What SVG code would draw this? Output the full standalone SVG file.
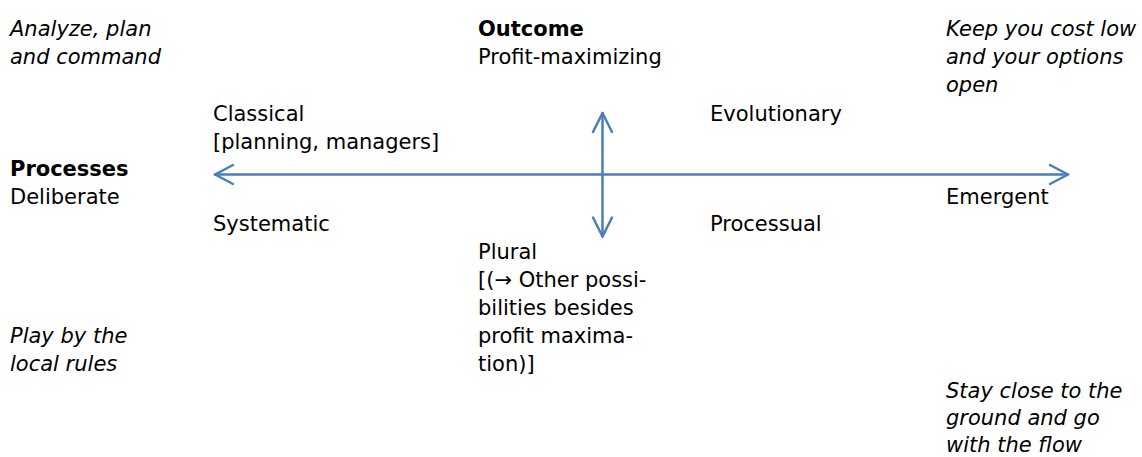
<svg xmlns="http://www.w3.org/2000/svg" width="1142" height="457" viewBox="0 0 1142 457">
  <style>
    text { font-family: "DejaVu Sans", "Liberation Sans", sans-serif; font-size: 21px; fill: #000; }
    .it { font-style: italic; }
    .b { font-weight: bold; }
    .axis { fill: none; stroke: #4a7ebb; stroke-width: 2.5; stroke-linecap: round; stroke-linejoin: round; }
  </style>
  <rect width="1142" height="457" fill="#fff"/>

  <!-- axes: processes (horizontal) and outcome (vertical) -->
  <g id="connectors">
    <path class="axis" d="M215 174.5 H1068"/>
    <path class="axis" d="M233 165 L215 174.5 L233 184"/>
    <path class="axis" d="M1050 165 L1068 174.5 L1050 184"/>
    <path class="axis" d="M602.5 113 V236.5"/>
    <path class="axis" d="M593 132 L602.5 113 L612 132"/>
    <path class="axis" d="M593 217.5 L602.5 236.5 L612 217.5"/>
  </g>

  <!-- corner mottos -->
  <g id="motto-top-left">
    <text class="it" x="10" y="36">Analyze, plan</text>
    <text class="it" x="10" y="64">and command</text>
  </g>
  <g id="motto-top-right">
    <text class="it" x="946" y="36">Keep you cost low</text>
    <text class="it" x="946" y="64">and your options</text>
    <text class="it" x="946" y="92">open</text>
  </g>
  <g id="motto-bottom-left">
    <text class="it" x="10" y="343">Play by the</text>
    <text class="it" x="10" y="371">local rules</text>
  </g>
  <g id="motto-bottom-right">
    <text class="it" x="946" y="398">Stay close to the</text>
    <text class="it" x="946" y="425">ground and go</text>
    <text class="it" x="946" y="452">with the flow</text>
  </g>

  <!-- axis labels -->
  <g id="outcome">
    <text class="b" x="478" y="36">Outcome</text>
    <text x="478" y="64">Profit-maximizing</text>
  </g>
  <g id="processes">
    <text class="b" x="10" y="176">Processes</text>
    <text x="10" y="204">Deliberate</text>
  </g>
  <g id="emergent">
    <text x="946" y="204">Emergent</text>
  </g>
  <g id="plural">
    <text x="478" y="259">Plural</text>
    <text x="478" y="287">[(→ Other possi-</text>
    <text x="478" y="315">bilities besides</text>
    <text x="478" y="343">profit maxima-</text>
    <text x="478" y="371">tion)]</text>
  </g>

  <!-- quadrants -->
  <g id="classical">
    <text x="213" y="121">Classical</text>
    <text x="213" y="149">[planning, managers]</text>
  </g>
  <g id="evolutionary">
    <text x="710" y="121">Evolutionary</text>
  </g>
  <g id="systematic">
    <text x="213" y="231">Systematic</text>
  </g>
  <g id="processual">
    <text x="710" y="231">Processual</text>
  </g>
</svg>
